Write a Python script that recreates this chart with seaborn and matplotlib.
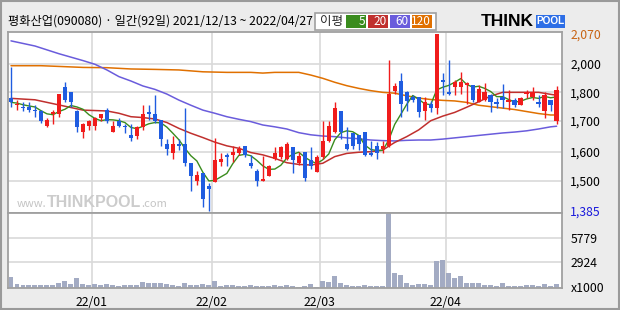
import numpy as np
import pandas as pd
import matplotlib
matplotlib.use("Agg")
import matplotlib.pyplot as plt
import matplotlib.patches as mpatches
import seaborn as sns

# ---------------- data ----------------
opens = [1780, 1755, 1750, 1750, 1740, 1735, 1685, 1725, 1725, 1835,
         1800, 1735, 1665, 1685, 1685, 1710, 1740, 1665, 1700, 1685,
         1655, 1650, 1680, 1730, 1725, 1705, 1625, 1595, 1625, 1625,
         1560, 1500, 1525, 1480, 1495, 1565, 1590, 1590, 1595, 1620,
         1560, 1535, 1500, 1515, 1575, 1580, 1575, 1615, 1560, 1600,
         1570, 1530, 1580, 1635, 1665, 1735, 1625, 1660, 1655, 1665,
         1595, 1620, 1610, 1620, 1810, 1880, 1800, 1785, 1785, 1735,
         1760, 1745, 1885, 1800, 1840, 1835, 1850, 1850, 1765, 1775,
         1790, 1765, 1785, 1765, 1775, 1755, 1795, 1785, 1765, 1735,
         1775, 1700]
highs = [1980, 1775, 1765, 1765, 1755, 1740, 1710, 1740, 1795, 1875,
         1800, 1740, 1695, 1705, 1715, 1725, 1745, 1700, 1710, 1690,
         1690, 1685, 1755, 1755, 1790, 1705, 1640, 1650, 1640, 1745,
         1560, 1535, 1525, 1490, 1645, 1595, 1595, 1620, 1620, 1620,
         1590, 1540, 1585, 1555, 1615, 1620, 1630, 1615, 1600, 1600,
         1615, 1590, 1700, 1700, 1765, 1735, 1680, 1660, 1655, 1665,
         1635, 1630, 1635, 2010, 1865, 1940, 1810, 1790, 1785, 1785,
         1770, 2070, 1940, 2010, 1885, 1945, 1870, 1850, 1850, 1865,
         1795, 1780, 1860, 1815, 1780, 1785, 1820, 1835, 1790, 1805,
         1775, 1845]
lows = [1750, 1740, 1735, 1730, 1715, 1695, 1680, 1690, 1715, 1765,
        1750, 1665, 1645, 1670, 1670, 1700, 1695, 1665, 1680, 1660,
        1635, 1640, 1670, 1705, 1695, 1620, 1590, 1575, 1605, 1550,
        1460, 1485, 1400, 1385, 1495, 1550, 1550, 1565, 1590, 1580,
        1545, 1480, 1500, 1515, 1570, 1575, 1570, 1525, 1555, 1500,
        1540, 1530, 1575, 1630, 1660, 1640, 1605, 1610, 1605, 1585,
        1585, 1575, 1595, 1615, 1795, 1715, 1735, 1765, 1715, 1705,
        1730, 1725, 1790, 1790, 1790, 1795, 1760, 1765, 1765, 1770,
        1730, 1745, 1745, 1740, 1750, 1755, 1780, 1775, 1750, 1710,
        1735, 1690]
closes = [1765, 1760, 1745, 1740, 1735, 1700, 1705, 1730, 1795, 1775,
          1765, 1680, 1690, 1700, 1710, 1725, 1700, 1685, 1685, 1680,
          1645, 1680, 1725, 1725, 1700, 1640, 1610, 1625, 1620, 1560,
          1515, 1520, 1430, 1470, 1570, 1575, 1580, 1600, 1610, 1590,
          1550, 1500, 1505, 1550, 1595, 1615, 1625, 1570, 1585, 1510,
          1550, 1580, 1635, 1685, 1745, 1665, 1610, 1620, 1625, 1590,
          1590, 1595, 1620, 1795, 1845, 1760, 1770, 1775, 1730, 1765,
          1745, 2070, 1870, 1795, 1875, 1875, 1865, 1775, 1825, 1800,
          1765, 1760, 1775, 1775, 1755, 1780, 1800, 1800, 1760, 1790,
          1755, 1815]
volumes = [1240, 390, 270, 270, 270, 270, 270, 270, 540, 775,
           425, 1120, 425, 270, 425, 270, 390, 270, 190, 270,
           310, 310, 660, 500, 540, 540, 425, 310, 155, 500,
           310, 310, 425, 270, 775, 230, 270, 270, 155, 155,
           270, 155, 230, 230, 270, 155, 270, 195, 80, 195,
           425, 80, 775, 660, 1355, 465, 310, 195, 195, 310,
           195, 195, 195, 8600, 1625, 1470, 580, 310, 425, 425,
           310, 3100, 3210, 1625, 1045, 1355, 580, 465, 580, 310,
           310, 195, 580, 195, 195, 195, 310, 310, 195, 425,
           195, 425]

ma20_idx = [0, 4, 8, 12, 16, 18, 20, 22, 24, 26, 28, 30, 32, 34, 36, 38, 40,
            42, 44, 46, 48, 50, 52, 54, 56, 58, 60, 62, 63, 64, 66, 68, 70,
            72, 74, 76, 78, 80, 82, 84, 86, 88, 90, 91]
ma20_val = [1779, 1774, 1756, 1738, 1735, 1727, 1715, 1712, 1707, 1695, 1676,
            1660, 1646, 1631, 1619, 1611, 1597, 1589, 1577, 1562, 1556, 1554,
            1560, 1583, 1594, 1598, 1600, 1605, 1618, 1630, 1649, 1671, 1701,
            1717, 1730, 1748, 1767, 1787, 1800, 1800, 1800, 1800, 1793, 1790]
ma60_idx = [0, 4, 8, 12, 14, 16, 18, 20, 22, 24, 26, 28, 30, 32, 34, 36, 38,
            40, 42, 44, 46, 48, 50, 52, 54, 56, 58, 60, 62, 64, 66, 68, 70,
            72, 74, 76, 78, 80, 82, 84, 86, 88, 90, 91]
ma60_val = [2054, 2042, 2024, 2008, 1998, 1958, 1911, 1880, 1845, 1821, 1794,
            1773, 1755, 1738, 1727, 1715, 1706, 1698, 1687, 1681, 1674, 1662,
            1655, 1651, 1649, 1645, 1642, 1638, 1636, 1635, 1637, 1638, 1638,
            1641, 1645, 1649, 1653, 1657, 1661, 1664, 1668, 1674, 1681, 1683]
ma120_idx = [0, 5, 8, 12, 16, 20, 24, 28, 32, 36, 40, 42, 44, 48, 50, 52, 54,
             56, 58, 60, 62, 64, 66, 68, 70, 72, 74, 76, 78, 80, 82, 84, 86,
             88, 90, 91]
ma120_val = [1988, 1988, 1983, 1976, 1974, 1965, 1962, 1958, 1945, 1941, 1941,
             1936, 1941, 1941, 1922, 1899, 1871, 1847, 1828, 1812, 1800, 1797,
             1788, 1780, 1775, 1772, 1770, 1765, 1755, 1750, 1745, 1740, 1733,
             1726, 1721, 1721]

month_pos = [13.5, 33.5, 51.5, 72.5]
month_labels = ["22/01", "22/02", "22/03", "22/04"]
price_grid = [1500, 1600, 1700, 1800, 2000]
price_extremes = [1385, 2070]
vol_ticks = [0, 2924, 5779]
vol_labels = ["x1000", "2924", "5779"]
title = "평화산업(090080) · 일간(92일) 2021/12/13 ~ 2022/04/27"

# ---------------- style ----------------
UP = "#f01c1c"
DN = "#1f5ce0"
VOLC = "#a3abc3"
C5, C20, C60, C120 = "#3a8c1e", "#c0302e", "#6a5cdc", "#e07000"
GRID = "#d9d9d9"
BORDER = "#a0a0a0"
BG = "#ececec"

sns.set_theme(style="white")
plt.rcParams['font.family'] = ['Noto Sans CJK KR', 'DejaVu Sans']

W, H = 620, 310
fig = plt.figure(figsize=(6.2, 3.1), dpi=100, facecolor=BG)


def rect(x0, y0, x1, y1):
    return [x0 / W, 1 - y1 / H, (x1 - x0) / W, (y1 - y0) / H]


def fx(x):
    return x / W


def fy(y):
    return 1 - y / H


axp = fig.add_axes(rect(8, 32, 562, 212.5))
axv = fig.add_axes(rect(8, 212.5, 562, 287.5))

# piecewise price scale that follows the reference's axis
P_ANCH = np.array([1000, 1385, 1500, 1600, 1700, 1800, 2000, 2070, 2400], float)
Z_ANCH = np.array([847, 543, 452, 365, 273, 187, 102, 12, -412], float)


def fwd(p):
    return -np.interp(p, P_ANCH, Z_ANCH)


def inv(v):
    return np.interp(-np.asarray(v), Z_ANCH[::-1], P_ANCH[::-1])


axp.set_yscale('function', functions=(fwd, inv))

n = len(closes)
x = np.arange(n)
O = np.array(opens, float)
Hh = np.array(highs, float)
L = np.array(lows, float)
C = np.array(closes, float)
cols = np.where(C >= O, UP, DN)

ma5 = pd.Series(C).rolling(5, min_periods=1).mean()

# moving averages
sns.lineplot(x=ma120_idx, y=ma120_val, ax=axp, color=C120, linewidth=1.1, zorder=2)
sns.lineplot(x=ma60_idx, y=ma60_val, ax=axp, color=C60, linewidth=1.1, zorder=2)
sns.lineplot(x=ma20_idx, y=ma20_val, ax=axp, color=C20, linewidth=1.1, zorder=2)
sns.lineplot(x=x, y=ma5.values, ax=axp, color=C5, linewidth=1.0, zorder=2)

# candles
axp.vlines(x, L, Hh, colors=cols, linewidth=1.0, zorder=3)
axp.bar(x, np.abs(C - O), bottom=np.minimum(O, C), width=0.72, color=cols,
        linewidth=0, zorder=4)

# volume
dfv = pd.DataFrame({"i": x, "v": volumes})
sns.barplot(data=dfv, x="i", y="v", ax=axv, color=VOLC, saturation=1,
            width=0.83, native_scale=True, errorbar=None, linewidth=0)

for ax in (axp, axv):
    ax.set_facecolor("white")
    for s in ax.spines.values():
        s.set_color(BORDER)
        s.set_linewidth(1.3)
    ax.set_xlim(-0.5, 91.9)
    ax.set_xticks(month_pos)
    ax.yaxis.tick_right()
    ax.tick_params(axis="both", length=0, labelsize=8.8, colors="black")
    ax.tick_params(axis="y", pad=6)
    ax.set_xlabel("")
    ax.set_ylabel("")
    ax.grid(True, which="major", color=GRID, linewidth=1.2)
    ax.set_axisbelow(True)

axp.set_ylim(1379.3, 2074.7)
axp.set_yticks(price_grid)
axp.set_yticklabels([f"{v:,}" for v in price_grid])
axp.set_yticks(price_extremes, minor=True)
mlabels = axp.set_yticklabels([f"{v:,}" for v in price_extremes], minor=True)
mlabels[0].set_color("#1a1adc")
mlabels[1].set_color("#c86414")
axp.tick_params(axis="y", which="minor", length=0, pad=6, labelsize=8.8)
axp.set_xticklabels([])

axv.set_ylim(0, 8700)
axv.set_yticks(vol_ticks)
axv.set_yticklabels(vol_labels)
axv.set_xticklabels(month_labels)
axv.tick_params(axis="x", pad=6)

# title
fig.text(fx(8), fy(21.5), title, fontsize=8.8, va="center", ha="left", color="black")

# legend box
fig.patches.append(mpatches.Rectangle((fx(315), fy(30)), (436 - 315) / W, (30 - 12.7) / H,
                                      transform=fig.transFigure, facecolor="white",
                                      edgecolor=BORDER, linewidth=1.2))
fig.text(fx(320), fy(21.5), "이평", fontsize=9, va="center", ha="left")
for (x0, x1, c, t) in [(346, 366, C5, "5"), (368, 388, C20, "20"),
                       (390, 410, C60, "60"), (412, 432, C120, "120")]:
    fig.patches.append(mpatches.Rectangle((fx(x0), fy(28)), (x1 - x0) / W, 13 / H,
                                          transform=fig.transFigure, facecolor=c,
                                          edgecolor="none"))
    fig.text(fx(x1 - 1), fy(21.5), t, fontsize=8.5, va="center", ha="right", color="white")

# THINKPOOL logo
fig.text(fx(481), fy(21.5), "THINK", fontsize=12.5, fontweight="bold", va="center",
         ha="left", color="black", family="Liberation Sans")
fig.patches.append(mpatches.Rectangle((fx(536), fy(28)), 29 / W, 13 / H,
                                      transform=fig.transFigure, facecolor="#2d6ee6",
                                      edgecolor="none"))
fig.text(fx(550.5), fy(21.5), "POOL", fontsize=7.2, fontweight="bold", va="center",
         ha="center", color="white", family="Liberation Sans")

# watermark
fig.text(fx(46), fy(204), "www.", fontsize=8, va="center", ha="right", color="#c4c4c4")
fig.text(fx(47), fy(202.5), "THINKPOOL", fontsize=11.5, fontweight="bold", va="center",
         ha="left", color="#cccccc", family="Liberation Sans")
fig.text(fx(141), fy(204), ".com", fontsize=8, va="center", ha="left", color="#c4c4c4")

# outer frame
fig.patches.append(mpatches.Rectangle((0.002, 0.003), 0.996, 0.994, transform=fig.transFigure,
                                      fill=False, edgecolor="#9a9a9a", linewidth=1.5))

fig.savefig("out.png", dpi=100, facecolor=BG)
